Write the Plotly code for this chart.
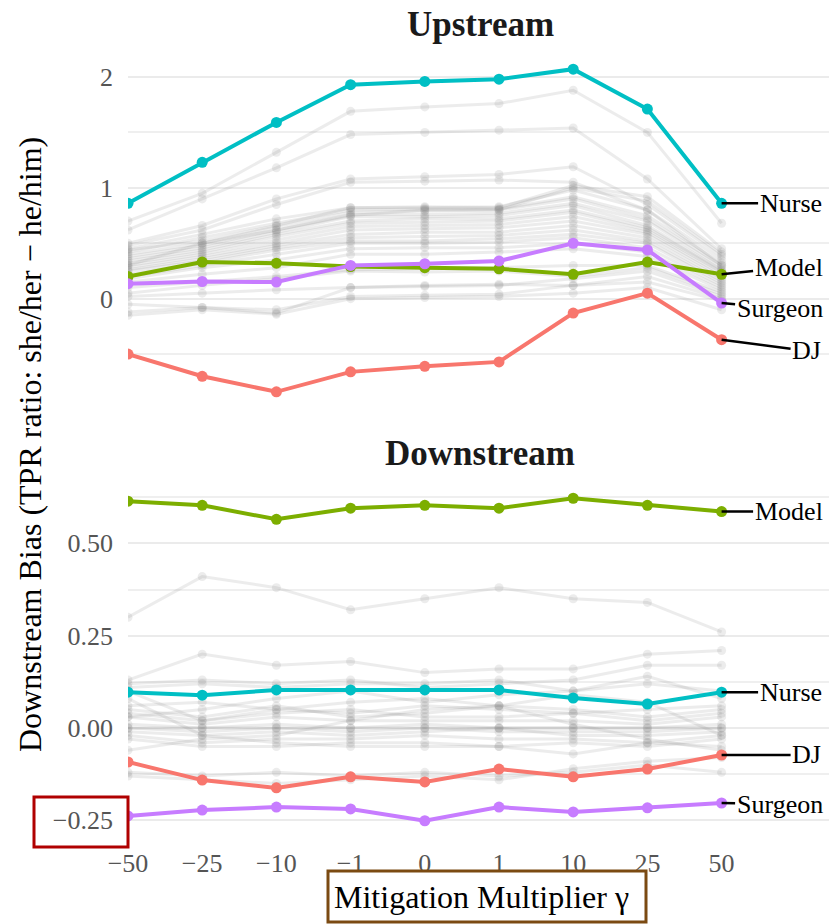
import plotly.graph_objects as go

# Mitigation multiplier settings (categorical x axis)
gamma_labels = ["−50", "−25", "−10", "−1", "0", "1", "10", "25", "50"]

# Highlighted occupations
occupations = ["DJ", "Model", "Nurse", "Surgeon"]
occ_colors = {"DJ": "#F8766D", "Model": "#7CAE00", "Nurse": "#00BFC4", "Surgeon": "#C77CFF"}

# Upstream bias per occupation
up_dj      = [-0.50, -0.70, -0.84, -0.66, -0.61, -0.57, -0.13, 0.05, -0.37]
up_model   = [0.20, 0.33, 0.32, 0.29, 0.28, 0.27, 0.22, 0.33, 0.22]
up_nurse   = [0.86, 1.23, 1.59, 1.93, 1.96, 1.98, 2.07, 1.71, 0.86]
up_surgeon = [0.135, 0.155, 0.15, 0.30, 0.315, 0.34, 0.50, 0.44, -0.04]

# Downstream bias per occupation
down_dj      = [-0.092, -0.141, -0.162, -0.132, -0.146, -0.111, -0.132, -0.111, -0.073]
down_model   = [0.614, 0.603, 0.565, 0.595, 0.603, 0.595, 0.622, 0.603, 0.586]
down_nurse   = [0.097, 0.089, 0.103, 0.103, 0.103, 0.103, 0.081, 0.065, 0.097]
down_surgeon = [-0.238, -0.222, -0.214, -0.219, -0.251, -0.214, -0.227, -0.216, -0.203]

# Remaining occupations (background context)
up_other = [
    [0.70, 0.95, 1.32, 1.69, 1.73, 1.76, 1.88, 1.50, 0.68],
    [0.62, 0.90, 1.18, 1.48, 1.50, 1.52, 1.54, 1.08, 0.45],
    [0.50, 0.66, 0.90, 1.08, 1.10, 1.12, 1.19, 0.85, 0.38],
    [0.48, 0.62, 0.85, 1.05, 1.06, 1.07, 1.05, 0.80, 0.30],
    [0.45, 0.58, 0.72, 0.82, 0.82, 0.83, 0.98, 0.80, 0.35],
    [0.42, 0.55, 0.68, 0.80, 0.81, 0.81, 0.92, 0.75, 0.32],
    [0.40, 0.50, 0.65, 0.78, 0.79, 0.80, 0.90, 0.72, 0.30],
    [0.38, 0.48, 0.62, 0.76, 0.76, 0.77, 0.86, 0.70, 0.28],
    [0.36, 0.46, 0.60, 0.74, 0.74, 0.75, 0.84, 0.66, 0.26],
    [0.34, 0.44, 0.58, 0.70, 0.72, 0.72, 0.80, 0.64, 0.25],
    [0.32, 0.42, 0.56, 0.68, 0.69, 0.70, 0.78, 0.62, 0.24],
    [0.30, 0.40, 0.53, 0.65, 0.66, 0.67, 0.74, 0.60, 0.22],
    [0.28, 0.38, 0.50, 0.62, 0.63, 0.64, 0.70, 0.58, 0.20],
    [0.26, 0.36, 0.48, 0.58, 0.60, 0.60, 0.66, 0.55, 0.18],
    [0.25, 0.34, 0.46, 0.55, 0.56, 0.57, 0.62, 0.52, 0.16],
    [0.22, 0.32, 0.44, 0.52, 0.52, 0.54, 0.58, 0.50, 0.14],
    [0.20, 0.30, 0.40, 0.50, 0.50, 0.51, 0.55, 0.46, 0.12],
    [0.18, 0.28, 0.35, 0.45, 0.46, 0.46, 0.50, 0.42, 0.10],
    [0.15, 0.22, 0.28, 0.40, 0.40, 0.42, 0.45, 0.38, 0.08],
    [0.10, 0.15, 0.20, 0.26, 0.27, 0.28, 0.30, 0.30, 0.06],
    [0.05, 0.12, 0.18, 0.25, 0.24, 0.25, 0.20, 0.28, 0.04],
    [0.02, 0.05, 0.08, 0.10, 0.11, 0.12, 0.18, 0.25, 0.02],
    [-0.05, -0.08, -0.10, 0.02, 0.03, 0.04, 0.12, 0.20, 0.00],
    [-0.12, -0.08, -0.13, 0.10, 0.12, 0.13, 0.12, 0.15, -0.02],
    [-0.15, -0.10, -0.14, 0.00, 0.01, 0.02, 0.05, 0.10, -0.10],
    [0.30, 0.50, 0.62, 0.75, 0.80, 0.80, 1.00, 0.88, 0.40],
    [0.44, 0.52, 0.66, 0.82, 0.83, 0.82, 1.02, 0.92, 0.42],
]

down_other = [
    [0.30, 0.41, 0.38, 0.32, 0.35, 0.38, 0.35, 0.34, 0.26],
    [0.13, 0.20, 0.17, 0.18, 0.15, 0.16, 0.16, 0.20, 0.21],
    [0.12, 0.13, 0.12, 0.13, 0.11, 0.12, 0.13, 0.17, 0.17],
    [0.11, 0.12, 0.11, 0.12, 0.12, 0.13, 0.10, 0.14, 0.08],
    [0.06, 0.07, 0.05, 0.04, 0.06, 0.05, 0.04, 0.05, 0.06],
    [0.05, 0.03, 0.06, 0.03, 0.04, 0.06, 0.05, 0.03, 0.05],
    [0.04, 0.02, 0.04, 0.05, 0.03, 0.03, 0.04, 0.02, 0.04],
    [0.03, 0.01, 0.03, 0.02, 0.02, 0.02, 0.02, 0.01, 0.03],
    [0.01, 0.00, 0.01, 0.00, 0.01, 0.00, 0.00, 0.00, 0.01],
    [0.00, 0.00, 0.00, 0.00, 0.00, 0.00, 0.00, 0.00, 0.00],
    [0.00, -0.01, 0.00, -0.01, 0.00, -0.01, -0.01, -0.01, 0.00],
    [-0.01, -0.02, -0.01, -0.02, -0.01, 0.00, -0.02, -0.02, -0.01],
    [-0.02, -0.04, -0.03, -0.03, -0.02, -0.03, -0.03, -0.04, -0.02],
    [-0.03, -0.05, -0.05, -0.04, -0.04, -0.05, -0.04, -0.05, -0.03],
    [0.08, -0.02, -0.04, -0.05, -0.05, -0.05, -0.07, -0.04, -0.05],
    [-0.06, -0.03, -0.02, 0.02, 0.05, 0.06, 0.09, 0.07, -0.02],
    [-0.12, -0.13, -0.12, -0.13, -0.12, -0.13, -0.12, -0.10, -0.12],
    [-0.13, -0.14, -0.15, -0.14, -0.13, -0.14, -0.11, -0.09, -0.08],
    [0.10, 0.02, 0.05, 0.07, 0.08, 0.06, 0.01, -0.03, -0.06],
    [0.03, 0.05, 0.08, 0.10, 0.07, 0.09, 0.10, 0.12, 0.10],
]

# Axis ticks
up_tickvals = [0, 1, 2]
up_ticktext = ["0", "1", "2"]
down_tickvals = [-0.25, 0.0, 0.25, 0.5]
down_ticktext = ["−0.25", "0.00", "0.25", "0.50"]

upstream = {"DJ": up_dj, "Model": up_model, "Nurse": up_nurse, "Surgeon": up_surgeon}
downstream = {"DJ": down_dj, "Model": down_model, "Nurse": down_nurse, "Surgeon": down_surgeon}

# Label offsets (px) for the end-of-line labels
up_label_offset = {"Nurse": (69, 0), "Model": (67, -7), "Surgeon": (58, 5), "DJ": (85, 11)}
down_label_offset = {"Model": (67, 0), "Nurse": (69, 0), "DJ": (85, 0), "Surgeon": (58, 1)}

# ---- page geometry ----
W, H = 829, 924
PL, PR, PT, PB = 128, 829, 53, 837
UP_BOTTOM_PX, DOWN_TOP_PX = 408, 482


def px_x(px):
    return (px - PL) / (PR - PL)


def px_y(py):
    return (PB - py) / (PB - PT)


FONT = "Liberation Serif, Times New Roman, serif"
GRAY = "rgba(128,128,128,0.15)"

fig = go.Figure()

for rows, xa, ya in ((up_other, "x2", "y2"), (down_other, "x", "y")):
    for vals in rows:
        fig.add_trace(go.Scatter(
            x=gamma_labels, y=vals, xaxis=xa, yaxis=ya, mode="lines+markers",
            line=dict(color=GRAY, width=3), marker=dict(color=GRAY, size=9),
            showlegend=False, hoverinfo="skip"))

for data, xa, ya in ((upstream, "x2", "y2"), (downstream, "x", "y")):
    for occ in occupations:
        fig.add_trace(go.Scatter(
            x=gamma_labels, y=data[occ], xaxis=xa, yaxis=ya, mode="lines+markers",
            line=dict(color=occ_colors[occ], width=4),
            marker=dict(color=occ_colors[occ], size=11),
            name=occ, showlegend=False))

# On a category axis annotations are placed by category index
last_idx = len(gamma_labels) - 1

annotations = []
for data, offsets, xa, ya in ((upstream, up_label_offset, "x2", "y2"),
                              (downstream, down_label_offset, "x", "y")):
    for occ, (dx, dy) in offsets.items():
        annotations.append(dict(
            x=last_idx, y=data[occ][-1], xref=xa, yref=ya,
            text=occ, showarrow=True, arrowhead=0, arrowwidth=2.5,
            arrowcolor="black", ax=dx, ay=dy, standoff=0, startstandoff=0,
            font=dict(family=FONT, size=26, color="black")))

# Panel titles
annotations.append(dict(text="<b>Upstream</b>", xref="paper", yref="paper",
                        x=px_x(480), y=px_y(25), xanchor="center", yanchor="middle",
                        showarrow=False, font=dict(family=FONT, size=35, color="#1a1a1a")))
annotations.append(dict(text="<b>Downstream</b>", xref="paper", yref="paper",
                        x=px_x(480), y=px_y(453), xanchor="center", yanchor="middle",
                        showarrow=False, font=dict(family=FONT, size=35, color="#1a1a1a")))
# Shared axis titles
annotations.append(dict(text="Downstream Bias (TPR ratio: she/her − he/him)",
                        xref="paper", yref="paper", x=px_x(30), y=0.5,
                        xanchor="center", yanchor="middle", textangle=-90,
                        showarrow=False, font=dict(family=FONT, size=32, color="black")))
annotations.append(dict(text="Mitigation Multiplier γ", xref="paper", yref="paper",
                        x=px_x(481), y=px_y(897), xanchor="center", yanchor="middle",
                        showarrow=False, font=dict(family=FONT, size=32, color="black")))

shapes = [
    dict(type="rect", xref="paper", yref="paper",
         x0=px_x(34), x1=px_x(128), y0=px_y(847), y1=px_y(797),
         line=dict(color="#B00000", width=3), layer="above"),
    dict(type="rect", xref="paper", yref="paper",
         x0=px_x(328), x1=px_x(646), y0=px_y(922), y1=px_y(871),
         line=dict(color="#7B4A12", width=3), layer="above"),
]

x_range = [0, (PR - PL) / 74.2]
axis_common = dict(showline=False, zeroline=False, ticks="",
                   tickfont=dict(family=FONT, size=26, color="#555555"))

fig.update_layout(
    width=W, height=H,
    margin=dict(l=PL, r=W - PR, t=PT, b=H - PB),
    paper_bgcolor="white", plot_bgcolor="white",
    showlegend=False,
    annotations=annotations, shapes=shapes,
    xaxis=dict(domain=[0, 1], anchor="y", type="category", range=x_range,
               showgrid=False, categoryorder="array", categoryarray=gamma_labels,
               ticklabelstandoff=8, **axis_common),
    xaxis2=dict(domain=[0, 1], anchor="y2", type="category", range=x_range,
                matches="x", showgrid=False, showticklabels=False,
                categoryorder="array", categoryarray=gamma_labels, **axis_common),
    yaxis=dict(domain=[0, px_y(DOWN_TOP_PX)], anchor="x", range=[-0.295, 0.666],
               tickvals=down_tickvals, ticktext=down_ticktext,
               showgrid=True, gridcolor="#EBEBEB", gridwidth=2,
               minor=dict(dtick=0.125, tick0=0, showgrid=True, gridcolor="#EFEFEF", gridwidth=1.5),
               ticklabelstandoff=14, **axis_common),
    yaxis2=dict(domain=[px_y(UP_BOTTOM_PX), 1], anchor="x2", range=[-0.986, 2.216],
                tickvals=up_tickvals, ticktext=up_ticktext,
                showgrid=True, gridcolor="#EBEBEB", gridwidth=2,
                minor=dict(dtick=0.5, tick0=0, showgrid=True, gridcolor="#EFEFEF", gridwidth=1.5),
                ticklabelstandoff=14, **axis_common),
)

fig.write_html("out.html")
